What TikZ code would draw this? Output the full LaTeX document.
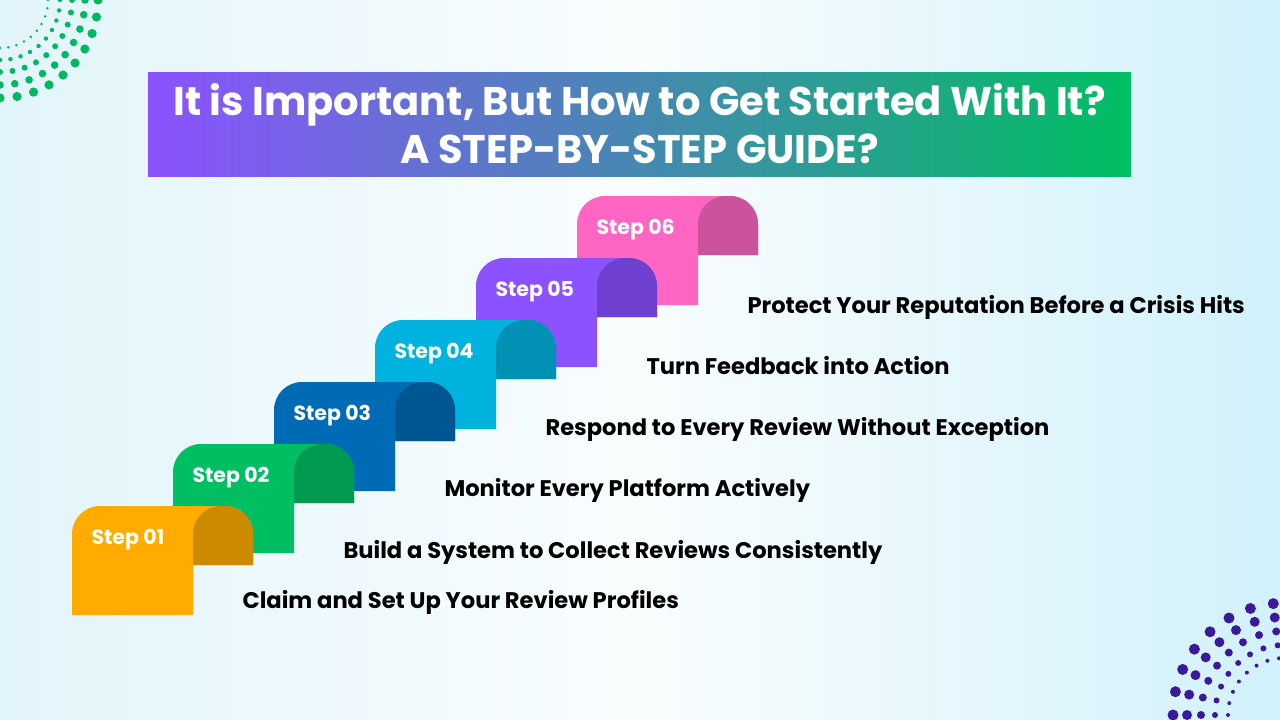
\documentclass[tikz,border=0pt]{standalone}
\usepackage{fontspec}
\setmainfont{Poppins}
\usetikzlibrary{positioning}
\definecolor{bgA}{HTML}{E2F5FB}
\definecolor{bgB}{HTML}{D2F1FB}
\definecolor{titleL}{HTML}{8C52FF}
\definecolor{titleR}{HTML}{00BF63}
\definecolor{dotG}{HTML}{00B860}
\definecolor{dotP}{HTML}{3A1A9A}
\definecolor{sA}{HTML}{FFAB00}\definecolor{dA}{HTML}{CC8A00}
\definecolor{sB}{HTML}{00BF63}\definecolor{dB}{HTML}{009A50}
\definecolor{sC}{HTML}{006BB5}\definecolor{dC}{HTML}{005690}
\definecolor{sD}{HTML}{00B3DF}\definecolor{dD}{HTML}{0091B5}
\definecolor{sE}{HTML}{8C52FF}\definecolor{dE}{HTML}{6F3FD0}
\definecolor{sF}{HTML}{FF66C4}\definecolor{dF}{HTML}{CC529D}
\begin{document}
\begin{tikzpicture}[x=1pt,y=-1pt,
  step label/.style={anchor=west, text=white, font=\bfseries\fontsize{20.5}{20}\selectfont},
  desc/.style={anchor=west, text=black, font=\bfseries\fontsize{22.6}{22}\selectfont}]
  % background
  \shade[left color=bgA, right color=bgB, middle color=white!80!bgA] (0,0) rectangle (1280,720);
  \useasboundingbox (0,0) rectangle (1280,720);
  % dots
  \foreach \r/\s in {48/1.4,60/2.2,72/3,85/3.8,98/4.6}
    \foreach \a in {0,10,...,90}
      \fill[dotG] (0,0) ++(\a:\r) circle (\s);
  \foreach \r/\s in {57/2,70/3,84/4,98/5,112/5.5}
    \foreach \a in {180,192,...,270}
      \fill[dotP] (1285,715) ++(\a:\r) circle (\s);
  % title
  \shade[left color=titleL, right color=titleR] (148,72) rectangle (1131,176);
  \node[text=white, align=center, font=\bfseries\fontsize{40}{48}\selectfont] (title) at (639.5,124)
    {It is Important, But How to Get Started With It?\\A STEP-BY-STEP GUIDE?};
  % steps, back to front
  \foreach \i/\c/\d/\o/\t in {6/sF/dF/111/Protect Your Reputation Before a Crisis Hits,
      5/sE/dE/108/Turn Feedback into Action,
      4/sD/dD/109/Respond to Every Review Without Exception,
      3/sC/dC/108/Monitor Every Platform Actively,
      2/sB/dB/108/Build a System to Collect Reviews Consistently,
      1/sA/dA/96/Claim and Set Up Your Review Profiles} {
    \pgfmathsetmacro{\xo}{72+101*(\i-1)}
    \pgfmathsetmacro{\yo}{506-62*(\i-1)}
    \fill[\c] (\xo,\yo+109) -- (\xo,\yo+28) arc (180:270:28) -- (\xo+153,\yo)
      arc (270:360:28) -- (\xo+181,\yo+59) -- (\xo+121,\yo+59) -- (\xo+121,\yo+109) -- cycle;
    \fill[\d] (\xo+121,\yo+59) -- (\xo+121,\yo+28) arc (180:270:28) -- (\xo+153,\yo)
      arc (270:360:28) -- (\xo+181,\yo+59) -- cycle;
    \node[step label] (s\i) at (\xo+16,\yo+34) {Step 0\i};
    \node[desc] (t\i) at (\xo+167,\yo+\o) {\t};
  }
\end{tikzpicture}
\end{document}
